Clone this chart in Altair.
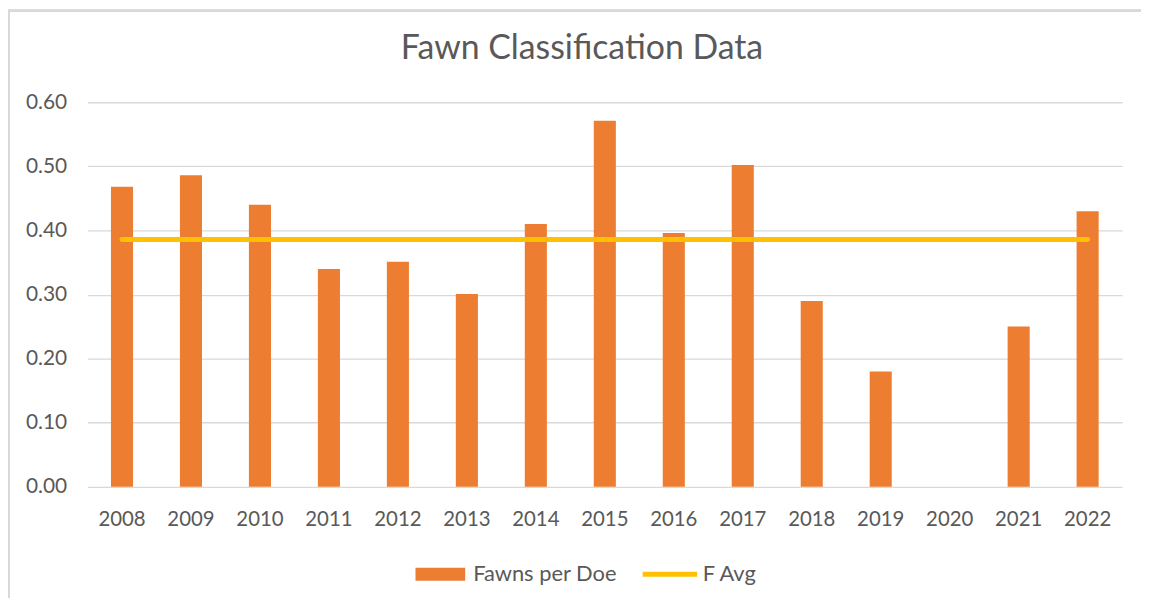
import altair as alt
import pandas as pd

years = ["2008", "2009", "2010", "2011", "2012", "2013", "2014", "2015",
         "2016", "2017", "2018", "2019", "2020", "2021", "2022"]
fawns_per_doe = [0.468, 0.486, 0.440, 0.340, 0.351, 0.301, 0.410, 0.571,
                 0.396, 0.502, 0.290, 0.180, None, 0.250, 0.430]
f_avg = [0.386, 0.386, 0.386, 0.386, 0.386, 0.386, 0.386, 0.386,
         0.386, 0.386, 0.386, 0.386, 0.386, 0.386, 0.386]

df = pd.DataFrame({"Year": years, "Fawns": fawns_per_doe, "Avg": f_avg})
df["s1"] = "Fawns per Doe"
df["s2"] = "F Avg"

FONT = "Lato"
GRAY = "#595959"

xenc = alt.X("Year:O", sort=years, title=None,
             scale=alt.Scale(paddingInner=0.68, paddingOuter=0.34),
             axis=alt.Axis(labelAngle=0, labelFontSize=20.5, labelColor=GRAY,
                           labelFont=FONT, labelPadding=23, ticks=False,
                           domain=False, grid=False))

bars = alt.Chart(df).mark_bar(color="#ED7D31").encode(
    x=xenc,
    y=alt.Y("Fawns:Q", title=None,
            scale=alt.Scale(domain=[0, 0.6]),
            axis=alt.Axis(values=[0, 0.1, 0.2, 0.3, 0.4, 0.5, 0.6], format=".2f",
                          labelFontSize=21, labelColor=GRAY, labelFont=FONT,
                          labelPadding=21, ticks=False, domain=False,
                          gridColor="#D9D9D9", gridWidth=1.3)),
    fill=alt.Fill("s1:N", title=None,
                  scale=alt.Scale(domain=["Fawns per Doe"], range=["#ED7D31"]),
                  legend=alt.Legend(orient="none", legendX=330, legendY=450,
                                    symbolType="M-1,-0.26H1V0.26H-1Z",
                                    symbolSize=2500, symbolOpacity=1,
                                    symbolStrokeWidth=0,
                                    labelFontSize=22, labelColor=GRAY,
                                    labelFont=FONT, labelOffset=8)),
)

line = alt.Chart(df).mark_line(color="#FFC000", strokeWidth=5, strokeCap="round").encode(
    x=alt.X("Year:O", sort=years),
    y=alt.Y("Avg:Q"),
    stroke=alt.Stroke("s2:N", title=None,
                      scale=alt.Scale(domain=["F Avg"], range=["#FFC000"]),
                      legend=alt.Legend(orient="none", legendX=556, legendY=445,
                                        symbolType="stroke", symbolSize=3000,
                                        symbolStrokeWidth=5,
                                        labelFontSize=22, labelColor=GRAY,
                                        labelFont=FONT, labelOffset=3)),
)

border_left = alt.Chart(df).mark_rule(color="#D9D9D9", strokeWidth=2).encode(
    x=alt.value(-79), y=alt.value(-92), y2=alt.value(500))
border_top = alt.Chart(df).mark_rule(color="#D9D9D9", strokeWidth=2).encode(
    x=alt.value(-80), x2=alt.value(1060), y=alt.value(-92))

chart = alt.layer(bars, line, border_left, border_top).resolve_scale(
    fill="independent", stroke="independent"
).properties(
    width=1041, height=387,
    title=alt.TitleParams("Fawn Classification Data", fontSize=34, font=FONT,
                          fontWeight="normal", color=GRAY, anchor="middle",
                          dx=-23, dy=56, offset=0),
    padding={"left": 80, "top": 93, "right": 20, "bottom": 110},
    autosize=alt.AutoSizeParams(type="none"),
).configure_view(stroke=None)

chart.save("out.html", embed_options={"renderer": "svg", "actions": False})
